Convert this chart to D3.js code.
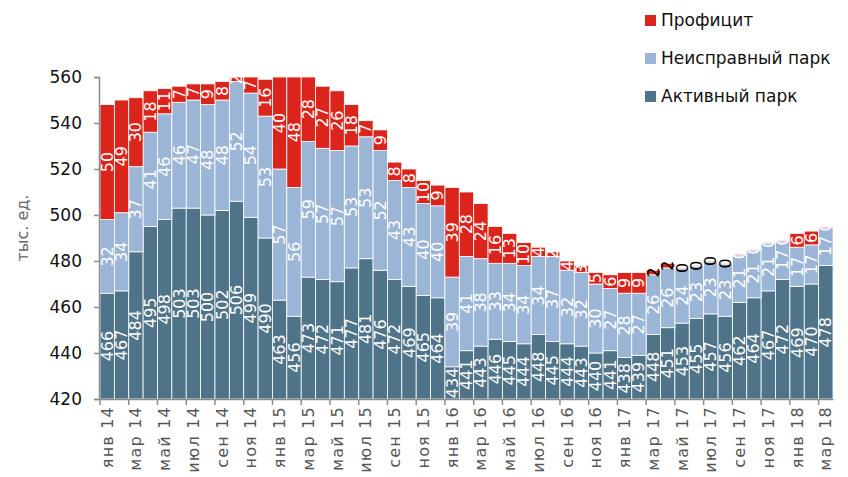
<!DOCTYPE html>
<html>
<head>
<meta charset="utf-8">
<script src="https://cdn.jsdelivr.net/npm/d3@7"></script>
<style>
  body { margin: 0; background: #ffffff; }
  svg { display: block; font-family: "DejaVu Sans", Verdana, sans-serif; }
</style>
</head>
<body>
<div id="chart"></div>
<script>
const months = ["янв", "фев", "мар", "апр", "май", "июн", "июл", "авг", "сен", "окт", "ноя", "дек"];
const periods = [];
for (let y = 14; y <= 18; y++) {
  months.forEach((m, i) => {
    if (y < 18 || i < 3) periods.push(`${m} ${y}`);
  });
}

const active = [
  466, 467, 484, 495, 498, 503, 503, 500, 502, 506, 499, 490,
  463, 456, 473, 472, 471, 477, 481, 476, 472, 469, 465, 464,
  434, 441, 443, 446, 445, 444, 448, 445, 444, 443, 440, 441,
  438, 439, 448, 451, 453, 455, 457, 456, 462, 464, 467, 472,
  469, 470, 478
];
const faulty = [
  32, 34, 37, 41, 46, 46, 47, 48, 48, 52, 54, 53,
  57, 56, 59, 57, 57, 53, 53, 52, 43, 43, 40, 40,
  39, 41, 38, 33, 34, 34, 34, 37, 32, 32, 30, 27,
  28, 27, 26, 26, 24, 23, 23, 23, 21, 21, 21, 17,
  17, 17, 17
];
const surplus = [
  50, 49, 30, 18, 11, 7, 7, 9, 8, 2, 7, 16,
  40, 48, 28, 27, 26, 18, 7, 9, 8, 8, 10, 9,
  39, 28, 24, 16, 13, 10, 4, 2, 4, 3, 5, 6,
  9, 9, 2, 2, 0, 0, 0, 0, 0, 0, 0, 0,
  6, 6, 0
];
const yTicks = [420, 440, 460, 480, 500, 520, 540, 560];

const seriesNames = ["Активный парк", "Неисправный парк", "Профицит"];
const colors = ["#4f7489", "#9bb5d7", "#db251c"];

const width = 848, height = 477;
const margin = { top: 77, right: 15, bottom: 78, left: 100 };

const rows = periods.map((p, i) => ({
  period: p,
  "Активный парк": active[i],
  "Неисправный парк": faulty[i],
  "Профицит": surplus[i]
}));

const stack = d3.stack().keys(seriesNames);
const layers = stack(rows);

const svg = d3.select("#chart").append("svg")
  .attr("width", width)
  .attr("height", height);

const x = d3.scaleBand()
  .domain(periods)
  .range([margin.left, width - margin.right])
  .padding(0);

const y = d3.scaleLinear()
  .domain([420, 560])
  .range([height - margin.bottom, margin.top]);

const yMin = y.domain()[0];

svg.append("clipPath")
  .attr("id", "plot-clip")
  .append("rect")
  .attr("x", margin.left)
  .attr("y", margin.top)
  .attr("width", width - margin.left - margin.right)
  .attr("height", height - margin.top - margin.bottom);

const plot = svg.append("g").attr("clip-path", "url(#plot-clip)");

const layerG = plot.selectAll("g.layer")
  .data(layers)
  .join("g")
  .attr("class", "layer")
  .attr("fill", (d, i) => colors[i]);

layerG.selectAll("rect")
  .data(d => d)
  .join("rect")
  .attr("x", d => x(d.data.period))
  .attr("y", d => y(d[1]))
  .attr("width", x.bandwidth())
  .attr("height", d => Math.max(1, y(Math.max(yMin, d[0])) - y(d[1])))
  .attr("stroke", "#ffffff")
  .attr("stroke-width", 0.8);

// value labels, centred in the visible part of each segment
layers.forEach((layer, li) => {
  plot.append("g")
    .selectAll("text")
    .data(layer)
    .join("text")
    .attr("transform", d => {
      const cx = x(d.data.period) + x.bandwidth() / 2;
      const cy = y((Math.max(yMin, d[0]) + d[1]) / 2);
      return `translate(${cx},${cy}) rotate(-90)`;
    })
    .attr("text-anchor", "middle")
    .attr("dominant-baseline", "central")
    .attr("font-size", "16px")
    .attr("fill", d => {
      const v = d[1] - d[0];
      return (li === 2 && v <= 2 && d[1] < 482) ? "#000000" : "#ffffff";
    })
    .text(d => d[1] - d[0]);
});

// y axis
const yAxis = svg.append("g")
  .attr("transform", `translate(${margin.left - 1},0)`)
  .call(d3.axisLeft(y).tickValues(yTicks).tickSize(5).tickPadding(12));
yAxis.select(".domain").attr("stroke", "#8c8c8c").attr("stroke-width", 1.5);
yAxis.selectAll(".tick line").attr("stroke", "#8c8c8c").attr("stroke-width", 1.5);
yAxis.selectAll(".tick text")
  .attr("font-size", "17px")
  .attr("fill", "#111111")
  .style("font-family", "DejaVu Sans, Verdana, sans-serif");

// x axis
const xAxis = svg.append("g")
  .attr("transform", `translate(0,${height - margin.bottom})`)
  .call(d3.axisBottom(x)
    .tickValues(periods.filter((p, i) => i % 2 === 0))
    .tickSize(6)
    .tickSizeOuter(0));
xAxis.select(".domain").attr("stroke", "#8c8c8c").attr("stroke-width", 1.5);
xAxis.selectAll(".tick line")
  .attr("stroke", "#8c8c8c")
  .attr("stroke-width", 1.5)
  .attr("x1", -x.bandwidth() / 2)
  .attr("x2", -x.bandwidth() / 2);
xAxis.selectAll(".tick text")
  .attr("transform", "rotate(-90)")
  .attr("text-anchor", "end")
  .attr("dominant-baseline", "central")
  .attr("x", -7)
  .attr("y", 0)
  .attr("dy", null)
  .attr("font-size", "16px")
  .attr("letter-spacing", "1.2px")
  .attr("fill", "#555555")
  .style("font-family", "DejaVu Sans, Verdana, sans-serif");

// y title
svg.append("text")
  .attr("transform", `translate(22,${(margin.top + height - margin.bottom) / 2 - 10}) rotate(-90)`)
  .attr("text-anchor", "middle")
  .attr("dominant-baseline", "central")
  .attr("font-size", "16px")
  .attr("fill", "#666666")
  .text("тыс. ед.");

// legend
const legendItems = [
  { name: "Профицит", color: colors[2] },
  { name: "Неисправный парк", color: colors[1] },
  { name: "Активный парк", color: colors[0] }
];
const legend = svg.append("g").attr("transform", "translate(645,20)");
legendItems.forEach((item, i) => {
  const g = legend.append("g").attr("transform", `translate(0,${i * 38})`);
  g.append("rect")
    .attr("x", 0)
    .attr("y", -5)
    .attr("width", 11)
    .attr("height", 11)
    .attr("fill", item.color);
  g.append("text")
    .attr("x", 16)
    .attr("y", 0)
    .attr("dominant-baseline", "central")
    .attr("font-size", "17px")
    .attr("fill", "#111111")
    .text(item.name);
});
</script>
</body>
</html>
